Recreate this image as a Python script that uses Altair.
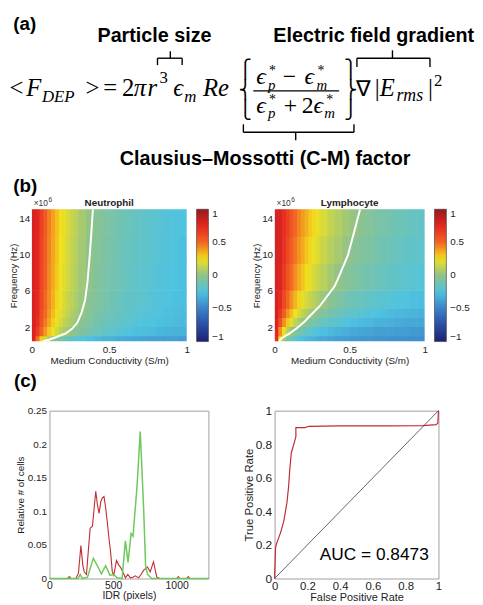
import altair as alt
import pandas as pd

SANS = "Liberation Sans"
SERIF = "Liberation Serif"
PIECE = "DejaVu Sans"
INK = "#222222"

# ---------------- (b) heat-map data ----------------
COND_EDGES = [0.0, 0.025, 0.05, 0.075, 0.1, 0.125, 0.15, 0.175, 0.2, 0.225, 0.25, 0.275, 0.3,
              0.35, 0.4, 0.45, 0.5, 0.55, 0.6, 0.65, 0.7, 0.75, 0.8, 0.85, 0.9, 0.95, 1.0]
FREQ_EDGES = [0.4, 1, 2, 3, 4, 6, 9, 12, 15]          # x 10^6 Hz
NEUT_CM = [
    [0.78, 0.48, 0.29, 0.17, 0.08, 0.01, -0.05, -0.09, -0.13, -0.16, -0.18, -0.21, -0.23, -0.26, -0.29, -0.31, -0.32, -0.34, -0.35, -0.36, -0.37, -0.38, -0.38, -0.39, -0.39, -0.40],
    [0.79, 0.66, 0.51, 0.40, 0.30, 0.23, 0.17, 0.11, 0.07, 0.03, 0.00, -0.03, -0.07, -0.11, -0.15, -0.18, -0.20, -0.22, -0.24, -0.26, -0.27, -0.28, -0.30, -0.31, -0.32, -0.32],
    [0.79, 0.71, 0.57, 0.46, 0.37, 0.29, 0.23, 0.18, 0.13, 0.09, 0.06, 0.03, -0.02, -0.06, -0.10, -0.13, -0.16, -0.18, -0.20, -0.22, -0.24, -0.25, -0.26, -0.27, -0.28, -0.29],
    [0.79, 0.73, 0.59, 0.49, 0.40, 0.32, 0.26, 0.21, 0.16, 0.12, 0.08, 0.05, 0.01, -0.04, -0.08, -0.11, -0.14, -0.16, -0.18, -0.20, -0.22, -0.23, -0.25, -0.26, -0.27, -0.28],
    [0.79, 0.74, 0.61, 0.50, 0.42, 0.35, 0.28, 0.23, 0.18, 0.14, 0.11, 0.07, 0.03, -0.02, -0.06, -0.09, -0.12, -0.15, -0.17, -0.19, -0.20, -0.22, -0.23, -0.25, -0.26, -0.27],
    [0.79, 0.75, 0.62, 0.52, 0.43, 0.36, 0.30, 0.24, 0.20, 0.16, 0.12, 0.09, 0.04, 0.00, -0.05, -0.08, -0.11, -0.13, -0.16, -0.18, -0.20, -0.21, -0.23, -0.24, -0.25, -0.26],
    [0.79, 0.75, 0.63, 0.53, 0.44, 0.37, 0.31, 0.25, 0.21, 0.17, 0.13, 0.10, 0.05, 0.00, -0.04, -0.07, -0.10, -0.13, -0.15, -0.17, -0.19, -0.20, -0.22, -0.23, -0.24, -0.26],
    [0.79, 0.76, 0.64, 0.54, 0.45, 0.38, 0.32, 0.26, 0.22, 0.18, 0.14, 0.11, 0.06, 0.01, -0.03, -0.06, -0.09, -0.12, -0.14, -0.16, -0.18, -0.20, -0.21, -0.23, -0.24, -0.25],
]
LYMPH_CM = [
    [0.72, 0.22, 0.04, -0.07, -0.14, -0.20, -0.23, -0.26, -0.29, -0.31, -0.32, -0.34, -0.35, -0.37, -0.39, -0.40, -0.41, -0.41, -0.42, -0.43, -0.43, -0.44, -0.44, -0.44, -0.45, -0.45],
    [0.76, 0.42, 0.23, 0.11, 0.02, -0.04, -0.10, -0.14, -0.17, -0.20, -0.22, -0.24, -0.27, -0.29, -0.31, -0.33, -0.35, -0.36, -0.37, -0.38, -0.39, -0.39, -0.40, -0.40, -0.41, -0.41],
    [0.79, 0.59, 0.42, 0.30, 0.21, 0.13, 0.07, 0.02, -0.02, -0.06, -0.09, -0.11, -0.15, -0.18, -0.21, -0.24, -0.26, -0.28, -0.29, -0.31, -0.32, -0.33, -0.34, -0.35, -0.35, -0.36],
    [0.80, 0.67, 0.53, 0.41, 0.32, 0.24, 0.18, 0.13, 0.08, 0.04, 0.01, -0.02, -0.06, -0.10, -0.14, -0.17, -0.19, -0.21, -0.23, -0.25, -0.26, -0.28, -0.29, -0.30, -0.31, -0.32],
    [0.80, 0.74, 0.61, 0.50, 0.41, 0.34, 0.28, 0.22, 0.18, 0.14, 0.10, 0.07, 0.03, -0.02, -0.06, -0.10, -0.13, -0.15, -0.17, -0.19, -0.21, -0.22, -0.24, -0.25, -0.26, -0.27],
    [0.80, 0.78, 0.67, 0.57, 0.49, 0.42, 0.36, 0.31, 0.26, 0.22, 0.18, 0.15, 0.11, 0.05, 0.01, -0.03, -0.06, -0.08, -0.11, -0.13, -0.15, -0.17, -0.18, -0.20, -0.21, -0.22],
    [0.80, 0.79, 0.70, 0.61, 0.53, 0.47, 0.41, 0.36, 0.31, 0.27, 0.23, 0.20, 0.15, 0.10, 0.06, 0.02, -0.02, -0.05, -0.07, -0.09, -0.12, -0.13, -0.15, -0.17, -0.18, -0.19],
    [0.80, 0.79, 0.72, 0.64, 0.56, 0.50, 0.44, 0.39, 0.35, 0.30, 0.27, 0.23, 0.19, 0.13, 0.09, 0.05, 0.02, -0.01, -0.04, -0.07, -0.09, -0.11, -0.13, -0.14, -0.16, -0.17],
]
NEUT_ZERO_F = [0.4, 0.6, 0.9, 1.3, 1.8, 2.5, 3.5, 5, 7, 10, 12.5, 15]
NEUT_ZERO_C = [0.07, 0.11, 0.16, 0.22, 0.26, 0.295, 0.32, 0.345, 0.36, 0.375, 0.385, 0.395]
LYMPH_ZERO_F = [0.5, 0.8, 1.3, 1.9, 2.6, 3.3, 4.3, 5.4, 6.5, 8, 10, 12.5, 15]
LYMPH_ZERO_C = [0.03, 0.05, 0.10, 0.15, 0.20, 0.24, 0.30, 0.35, 0.40, 0.44, 0.49, 0.53, 0.57]
FREQ_TICKS = [2, 4, 6, 8, 10, 12, 14]
COND_TICKS = [0, 0.5, 1]
CB_TICKS = [1, 0.5, 0, -0.5, -1]
CB_STOPS = [-1, -0.75, -0.5, -0.25, 0, 0.25, 0.5, 0.75, 1]
CB_COLORS = ["#1c2273", "#2a4ea3", "#3b82c9", "#4fc3e0", "#8fc38a",
             "#f2e21c", "#f26522", "#e52521", "#941b1e"]

# ---------------- (c) data ----------------
IDR_RED_X = [0, 140, 156, 170, 208, 228, 247, 262, 273, 291, 305, 320, 338, 364, 377, 390, 404, 416, 429, 442,
             455, 468, 481, 494, 506, 527, 545, 558, 584, 597, 616, 636, 655, 675, 701, 720, 740, 771, 792, 818,
             844, 870, 1000, 1013, 1026, 1078, 1091, 1104, 1250]
IDR_RED_Y = [0, 0, 0.003, 0, 0, 0.008, 0.049, 0.02, 0.01, 0.006, 0.04, 0.075, 0.078, 0.130, 0.11, 0.097, 0.115, 0.12, 0.122, 0.105,
             0.083, 0.06, 0.039, 0.01, 0.005, 0.027, 0.02, 0.017, 0.007, 0.001, 0.006, 0.001, 0.002, 0.004, 0.001, 0.006, 0.012, 0.017, 0.01, 0.025,
             0.002, 0, 0, 0.003, 0, 0, 0.003, 0, 0]
IDR_GREEN_X = [0, 225, 242, 258, 299, 320, 345, 377, 408, 442, 475, 506, 532, 571, 597, 618, 642, 657, 688, 714,
               740, 756, 771, 805, 1250]
IDR_GREEN_Y = [0, 0, 0.006, 0, 0.002, 0.015, 0.030, 0.019, 0.007, 0.019, 0.005, 0.006, 0.001, 0, 0.056, 0.024, 0.067, 0.063, 0.136, 0.219,
               0.107, 0.019, 0.006, 0, 0]
IDR_TICKS = [0, 500, 1000]
REL_TICKS = [0, 0.05, 0.1, 0.15, 0.2, 0.25]
ROC_FPR = [0, 0.006, 0.012, 0.036, 0.056, 0.076, 0.086, 0.092, 0.102, 0.122, 0.13, 0.13, 0.186, 0.21, 0.386, 0.686, 0.906, 0.986, 0.996, 1.0]
ROC_TPR = [0, 0.184, 0.208, 0.272, 0.340, 0.456, 0.553, 0.641, 0.748, 0.816, 0.845, 0.899, 0.899, 0.907, 0.909, 0.909, 0.911, 0.917, 0.926, 1.0]
DIAG = [0, 1]
ROC_TICKS = [0, 0.2, 0.4, 0.6, 0.8, 1]

ONE = pd.DataFrame({"k": [0]})


def T(s, x, y, size, font=SERIF, style="italic", weight="normal", align="left",
      baseline="alphabetic", color="black"):
    return alt.Chart(ONE).mark_text(text=s, font=font, fontSize=size, fontStyle=style,
                                    fontWeight=weight, align=align, baseline=baseline,
                                    color=color).encode(x=alt.value(x), y=alt.value(y))


def R(x1, x2, y1, y2, w=1.4, color="black", opacity=1.0):
    return alt.Chart(ONE).mark_rule(color=color, strokeWidth=w, strokeOpacity=opacity).encode(
        x=alt.value(x1), x2=alt.value(x2), y=alt.value(y1), y2=alt.value(y2))


def blank(w, h):
    return alt.Chart(ONE).mark_text(text="").encode(
        x=alt.value(0), y=alt.value(0)).properties(width=w, height=h)


# panel (a) is drawn relative to the left edge of the Neutrophil plot (row origins align)
AX = -22.6


def TA(s, x, y, size, **kw):
    return T(s, x + AX, y, size, **kw)


def RA(x1, x2, y1, y2, **kw):
    return R(x1 + AX, x2 + AX, y1, y2, **kw)


def overbrace(x1, x2, xc, y, yend, ytip):
    return [RA(x1, x2, y, y), RA(x1, x1, y, yend), RA(x2, x2, y, yend), RA(xc, xc, y, ytip)]


def curly(pieces, x, yc, size):
    step = 1.164 * size
    return [TA(p, x, yc + (i - 1) * step, size, font=PIECE, style="normal", baseline="middle")
            for i, p in enumerate(pieces)]


# ---------------- panel (a) ----------------
M = 25      # main math size
S = 17      # script size
BL = 85     # main baseline
BOLD = dict(font=SANS, style="normal", weight="bold")
a_layers = [
    TA("(a)", 4, 12, 19, baseline="middle", **BOLD),
    TA("Particle size", 147, 25, 20, align="center", baseline="middle", **BOLD),
    TA("Electric field gradient", 369, 25, 20, align="center", baseline="middle", **BOLD),
    TA("Clausius\u2013Mossotti (C-M) factor", 259, 149, 20, align="center", baseline="middle", **BOLD),
    TA("(b)", 4, 177, 19, baseline="middle", **BOLD),
    TA("<", 0, BL, M, style="normal"),
    TA("F", 17, BL, M),
    TA("DEP", 33, BL + 6, S),
    TA(">", 77, BL, M, style="normal"),
    TA("=", 95, BL, M, style="normal"),
    TA("2", 114, BL, M, style="normal"),
    TA("\u03c0", 126, BL, M),
    TA("r", 140, BL, M),
    TA("3", 152, BL - 13, S, style="normal"),
    TA("\u03f5", 166, BL, M),
    TA("m", 177, BL + 6, S),
    TA("Re", 196, BL, M),
    # numerator
    TA("\u03f5", 250, 73, 24), TA("*", 263, 64, 14, style="normal"), TA("p", 262, 79, 15),
    TA("\u2212", 277, 73, 24, style="normal"),
    TA("\u03f5", 299, 73, 24), TA("*", 312, 64, 14, style="normal"), TA("m", 311, 79, 15),
    RA(247, 334, 80, 80, w=1.3),
    # denominator
    TA("\u03f5", 250, 102, 24), TA("*", 263, 93, 14, style="normal"), TA("p", 262, 108, 15),
    TA("+", 278, 102, 24, style="normal"),
    TA("2", 296, 102, 24, style="normal"),
    TA("\u03f5", 308, 102, 24), TA("*", 321, 93, 14, style="normal"), TA("m", 319, 108, 15),
    # gradient term
    TA("\u2207", 351, BL, 22, style="normal"),
    TA("|", 370, BL, M, style="normal"),
    TA("E", 375, BL, M),
    TA("rms", 392, BL + 5, 18),
    TA("|", 424, BL, M, style="normal"),
    TA("2", 430, BL - 10, S, style="normal"),
]
a_layers += curly(["\u23a7", "\u23a8", "\u23a9"], 232, 80, 18)
a_layers += curly(["\u23ab", "\u23ac", "\u23ad"], 339, 80, 18)
a_layers += overbrace(150, 175, 163, 47, 54, 40)
a_layers += overbrace(352, 426, 388, 47, 56, 39)
a_layers += overbrace(237, 349, 290, 122, 114, 130)
panel_a = alt.layer(*a_layers).properties(width=420, height=188)


# ---------------- panel (b) ----------------
def grid_df(rows):
    recs = []
    for i, row in enumerate(rows):
        for j, v in enumerate(row):
            recs.append({"x0": COND_EDGES[j], "x1": COND_EDGES[j + 1] + 0.004,
                         "f0": FREQ_EDGES[i], "f1": FREQ_EDGES[i + 1] + 0.06, "v": v})
    return pd.DataFrame(recs)


cscale = alt.Scale(domain=CB_STOPS, range=CB_COLORS, interpolate="rgb")


def heatmap(rows, zf, zc, title, width, extra):
    rect = alt.Chart(grid_df(rows)).mark_rect(clip=True).encode(
        x=alt.X("x0:Q", scale=alt.Scale(domain=[0, 1], nice=False, zero=False),
                axis=alt.Axis(values=COND_TICKS, format="~g", title="Medium Conductivity (S/m)",
                              labelFontSize=10, titleFontSize=10, labelPadding=3, titlePadding=1,
                              labelFlush=False)),
        x2="x1:Q",
        y=alt.Y("f0:Q", scale=alt.Scale(domain=[0.4, 15], nice=False, zero=False),
                axis=alt.Axis(values=FREQ_TICKS, title="Frequency (Hz)", labelFontSize=10,
                              titleFontSize=9.5, labelPadding=2, titlePadding=0)),
        y2="f1:Q",
        color=alt.Color("v:Q", scale=cscale,
                        legend=alt.Legend(type="gradient", values=CB_TICKS, format="~g", title=None,
                                          gradientLength=134, gradientThickness=12,
                                          labelFontSize=10, offset=10, padding=0, labelOffset=4,
                                          direction="vertical", orient="right",
                                          gradientStrokeColor="#333", gradientStrokeWidth=0.6,
                                          labelOverlap=False)),
    )
    zdf = pd.DataFrame({"f": zf, "c": zc})
    line = alt.Chart(zdf).mark_line(color="white", strokeWidth=2, clip=True).encode(
        x="c:Q", y="f:Q", order="f:Q")
    layers = [rect, line,
              T(title, width / 2, -3.5, 10, align="center", **BOLD, color=INK),
              T("\u00d710", 2, -3, 8.5, font=SANS, style="normal", color="#333"),
              T("6", 17, -7, 6.5, font=SANS, style="normal", color="#333")] + extra
    return alt.layer(*layers).properties(width=width, height=134)


left_extra = [T("(c)", -18, 174, 19, **BOLD, baseline="middle"),
              R(0, 1, 197, 197, opacity=0.0)]
neut = heatmap(NEUT_CM, NEUT_ZERO_F, NEUT_ZERO_C, "Neutrophil", 157, left_extra)
lymph = heatmap(LYMPH_CM, LYMPH_ZERO_F, LYMPH_ZERO_C, "Lymphocyte", 152, [])
panel_b = alt.hconcat(neut, blank(89, 1), lymph, spacing=0, bounds="flush").resolve_scale(
    color="independent")

# ---------------- panel (c) ----------------
CH = 170
red_df = pd.DataFrame({"x": IDR_RED_X, "y": IDR_RED_Y})
green_df = pd.DataFrame({"x": IDR_GREEN_X, "y": IDR_GREEN_Y})
hx = alt.X("x:Q", scale=alt.Scale(domain=[0, 1250], nice=False),
           axis=alt.Axis(values=IDR_TICKS, format="d", title="IDR (pixels)", labelFontSize=10.5,
                         titleFontSize=10.5, labelPadding=2, titlePadding=0, labelFlush=False))
hy = alt.Y("y:Q", scale=alt.Scale(domain=[0, 0.25], nice=False),
           axis=alt.Axis(values=REL_TICKS, format="~g", title="Relative # of cells", labelFontSize=10,
                         titleFontSize=10, labelPadding=3, titlePadding=2))
red = alt.Chart(red_df).mark_line(color="#c42a2f", strokeWidth=1.1).encode(x=hx, y=hy)
green = alt.Chart(green_df).mark_line(color="#6cc95a", strokeWidth=1.5).encode(x=hx, y=hy)
hist = alt.layer(red, green).properties(
    width=161, height=CH, view=alt.ViewBackground(stroke="#a0a0a0", strokeWidth=1))

roc_df = pd.DataFrame({"fpr": ROC_FPR, "tpr": ROC_TPR, "i": list(range(len(ROC_FPR)))})
diag_df = pd.DataFrame({"fpr": DIAG, "tpr": DIAG})
rx = alt.X("fpr:Q", scale=alt.Scale(domain=[0, 1], nice=False),
           axis=alt.Axis(values=ROC_TICKS, format="~g", title="False Positive Rate", labelFontSize=11.5,
                         titleFontSize=11, labelPadding=2, titlePadding=0, labelFlush=False))
ry = alt.Y("tpr:Q", scale=alt.Scale(domain=[0, 1], nice=False),
           axis=alt.Axis(values=ROC_TICKS, format="~g", title="True Positive Rate", labelFontSize=12,
                         titleFontSize=11.5, labelPadding=3, titlePadding=1))
diag = alt.Chart(diag_df).mark_line(color="#222222", strokeWidth=0.7).encode(x=rx, y=ry)
roc_line = alt.Chart(roc_df).mark_line(color="#c42a2f", strokeWidth=1.2).encode(x=rx, y=ry, order="i:Q")
auc = T("AUC = 0.8473", 101, CH - 24, 17.5, font=SANS, style="normal", align="center", baseline="middle")
roc = alt.layer(diag, roc_line, auc).properties(
    width=166, height=CH, view=alt.ViewBackground(stroke="#a0a0a0", strokeWidth=1))

panel_c = alt.hconcat(blank(18, 1), hist, blank(67, 1), roc, spacing=0, bounds="flush")

chart = alt.vconcat(panel_a, panel_b, panel_c, spacing=0).properties(
    padding=0).configure_view(strokeWidth=0).configure_axis(
    labelFont=SANS, titleFont=SANS, labelColor=INK, titleColor=INK, titleFontWeight="normal",
    grid=False, ticks=False, domain=False).configure_legend(labelFont=SANS, labelColor=INK)

chart.save("out.html", embed_options={"renderer": "svg", "actions": False})
